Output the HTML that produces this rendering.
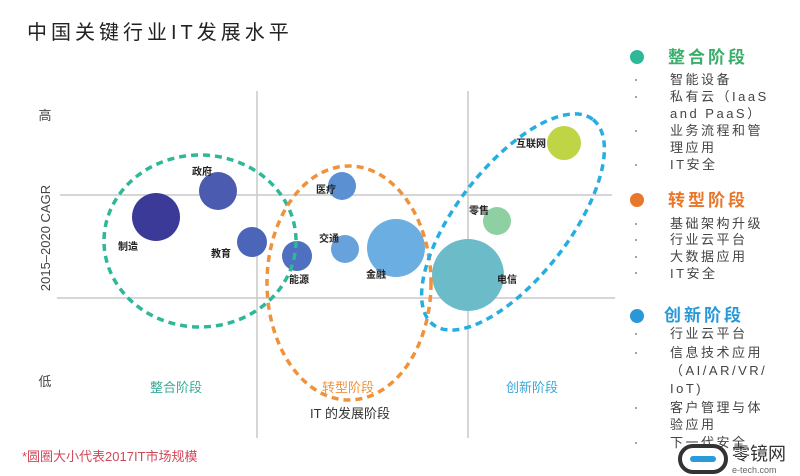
<!DOCTYPE html>
<html><head><meta charset="utf-8"><style>
body{margin:0;background:#fff;}
svg{display:block;font-family:"Liberation Sans","Noto Sans CJK SC",sans-serif;}
</style></head><body>
<svg width="800" height="476" viewBox="0 0 800 476">
<text x="27" y="39" font-size="20" fill="#222" letter-spacing="4">中国关键行业IT发展水平</text>
<g stroke="#c8c8c8" stroke-width="1.5">
<line x1="257" y1="91" x2="257" y2="438"/>
<line x1="468" y1="91" x2="468" y2="438"/>
<line x1="60" y1="195" x2="612" y2="195"/>
<line x1="57" y1="298" x2="615" y2="298"/>
</g>
<text x="45" y="120" font-size="13" fill="#444" text-anchor="middle">高</text>
<text x="45" y="386" font-size="13" fill="#444" text-anchor="middle">低</text>
<text transform="translate(50,238) rotate(-90)" font-size="13" fill="#444" text-anchor="middle">2015–2020 CAGR</text>
<g>
<circle cx="156" cy="217" r="24" fill="#3b3a98"/>
<circle cx="218" cy="191" r="19" fill="#4a5bb0"/>
<circle cx="252" cy="242" r="15" fill="#4b66b8"/>
<circle cx="297" cy="256" r="15" fill="#4f6fc0"/>
<circle cx="342" cy="186" r="14" fill="#5b90d2"/>
<circle cx="345" cy="249" r="14" fill="#68a2dc"/>
<circle cx="396" cy="248" r="29" fill="#6aaee2"/>
<circle cx="468" cy="275" r="36" fill="#6bbbc9"/>
<circle cx="497" cy="221" r="14" fill="#8fd0a2"/>
<circle cx="564" cy="143" r="17" fill="#bfd545"/>
</g>
<g fill="none" stroke-width="3.5" stroke-dasharray="7,5">
<ellipse cx="200" cy="241" rx="96" ry="86" stroke="#2fb898"/>
<ellipse cx="349" cy="283" rx="82" ry="117" stroke="#f0923a"/>
<ellipse cx="513" cy="222" rx="130" ry="56" stroke="#26aee0" transform="rotate(-52 513 222)"/>
</g>
<g font-size="10" fill="#222" font-weight="bold">
<text x="118" y="250">制造</text>
<text x="192" y="175">政府</text>
<text x="211" y="257">教育</text>
<text x="289" y="283">能源</text>
<text x="316" y="193">医疗</text>
<text x="319" y="242">交通</text>
<text x="366" y="278">金融</text>
<text x="497" y="283">电信</text>
<text x="469" y="214">零售</text>
<text x="516" y="147">互联网</text>
</g>
<text x="176" y="392" font-size="13" fill="#3aaa98" text-anchor="middle">整合阶段</text>
<text x="348" y="392" font-size="13" fill="#f0923a" text-anchor="middle">转型阶段</text>
<text x="532" y="392" font-size="13" fill="#3aa8d8" text-anchor="middle">创新阶段</text>
<text x="350" y="418" font-size="13" fill="#333" text-anchor="middle">IT 的发展阶段</text>
<text x="22" y="461" font-size="13" fill="#d04858">*圆圈大小代表2017IT市场规模</text>
<circle cx="637" cy="57" r="7" fill="#2fb898"/>
<text x="668" y="63" font-size="17" fill="#3aae6a" font-weight="bold" letter-spacing="3">整合阶段</text>
<circle cx="637" cy="200" r="7" fill="#e8772c"/>
<text x="668" y="206" font-size="17" fill="#e8772c" font-weight="bold" letter-spacing="3">转型阶段</text>
<circle cx="637" cy="316" r="7" fill="#2a98d8"/>
<text x="664" y="321" font-size="17" fill="#2a98d8" font-weight="bold" letter-spacing="3">创新阶段</text>
<g font-size="13" fill="#444" letter-spacing="2.5">
<text x="670" y="84">智能设备</text>
<text x="670" y="101">私有云（IaaS</text>
<text x="670" y="118">and PaaS）</text>
<text x="670" y="135">业务流程和管</text>
<text x="670" y="152">理应用</text>
<text x="670" y="169">IT安全</text>
<text x="670" y="228">基础架构升级</text>
<text x="670" y="244">行业云平台</text>
<text x="670" y="261">大数据应用</text>
<text x="670" y="278">IT安全</text>
<text x="670" y="338">行业云平台</text>
<text x="670" y="357">信息技术应用</text>
<text x="670" y="375">（AI/AR/VR/</text>
<text x="670" y="393">IoT)</text>
<text x="670" y="412">客户管理与体</text>
<text x="670" y="429">验应用</text>
<text x="670" y="447">下一代安全</text>
</g>
<g fill="#888">
<circle cx="636" cy="80" r="1"/><circle cx="636" cy="97" r="1"/><circle cx="636" cy="131" r="1"/><circle cx="636" cy="165" r="1"/>
<circle cx="636" cy="224" r="1"/><circle cx="636" cy="240" r="1"/><circle cx="636" cy="257" r="1"/><circle cx="636" cy="273" r="1"/>
<circle cx="636" cy="334" r="1"/><circle cx="636" cy="353" r="1"/><circle cx="636" cy="408" r="1"/><circle cx="636" cy="443" r="1"/>
</g>
<rect x="680" y="446" width="46" height="26" rx="13" fill="#fff" stroke="#333" stroke-width="4"/>
<rect x="690" y="456" width="26" height="6" rx="3" fill="#2a9ad8"/>
<text x="732" y="460" font-size="18" fill="#333">零镜网</text>
<text x="732" y="473" font-size="9" fill="#666">e-tech.com</text>
</svg>
</body></html>
